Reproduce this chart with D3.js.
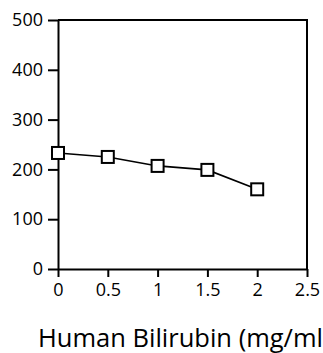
<!DOCTYPE html>
<html>
<head>
<meta charset="utf-8">
<script src="https://cdn.jsdelivr.net/npm/d3@7"></script>
<style>
  body { margin: 0; background: #fff; overflow: hidden; }
  text { font-family: "Open Sans", sans-serif; fill: #000; }
</style>
</head>
<body>
<div id="chart"></div>
<script>
// Data
var concentrations = [0, 0.5, 1, 1.5, 2];
var responses = [233, 225, 207, 199, 160];
var xTicks = [0, 0.5, 1, 1.5, 2, 2.5];
var yTicks = [0, 100, 200, 300, 400, 500];
var xTitle = "Human Bilirubin (mg/ml)";

var margin = { top: 20, right: 16, bottom: 84, left: 58 },
   width = 323 - margin.left - margin.right,
   height = 353 - margin.top - margin.bottom;

var svg = d3.select("#chart")
   .append("svg")
   .attr("width", 323)
   .attr("height", 353)
   .append("g")
   .attr("transform", "translate(" + margin.left + "," + margin.top + ")");

var xScale = d3.scaleLinear().domain([0, 2.5]).range([0, 249]);
var yScale = d3.scaleLinear().domain([0, 500]).range([249, 0]);

// frame (top and right)
svg.append("path")
   .attr("d", "M0,0H" + xScale(2.5) + "V" + yScale(0))
   .attr("fill", "none")
   .attr("stroke", "#000")
   .attr("stroke-width", 2);

// X axis
var xAxis = svg.append("g")
   .attr("class", "axis")
   .attr("transform", "translate(0," + yScale(0) + ")")
   .call(d3.axisBottom(xScale).tickValues(xTicks).tickSize(8).tickSizeOuter(0)
      .tickFormat(function (d) { return d; }));

xAxis.selectAll("text")
   .attr("y", 14)
   .style("font-size", "18px");

// Y axis
var yAxis = svg.append("g")
   .attr("class", "axis")
   .call(d3.axisLeft(yScale).tickValues(yTicks).tickSize(10).tickSizeOuter(0));

yAxis.selectAll("text")
   .attr("x", -15)
   .style("font-size", "18px");

svg.selectAll(".axis path, .axis line")
   .attr("stroke", "#000")
   .attr("stroke-width", 2);

// line
var points = concentrations.map(function (c, i) { return { x: c, y: responses[i] }; });

var line = d3.line()
   .x(function (d) { return xScale(d.x); })
   .y(function (d) { return yScale(d.y); });

svg.append("path")
   .datum(points)
   .attr("fill", "none")
   .attr("stroke", "#000")
   .attr("stroke-width", 1.6)
   .attr("d", line);

// square markers
var s = 12;
svg.selectAll(".marker")
   .data(points)
   .enter().append("rect")
   .attr("class", "marker")
   .attr("x", function (d) { return xScale(d.x) - s / 2; })
   .attr("y", function (d) { return yScale(d.y) - s / 2; })
   .attr("width", s)
   .attr("height", s)
   .attr("fill", "#fff")
   .attr("stroke", "#000")
   .attr("stroke-width", 2);

// x axis title
svg.append("text")
   .attr("x", -20)
   .attr("y", 327)
   .style("font-size", "25.5px")
   .text(xTitle);
</script>
</body>
</html>
